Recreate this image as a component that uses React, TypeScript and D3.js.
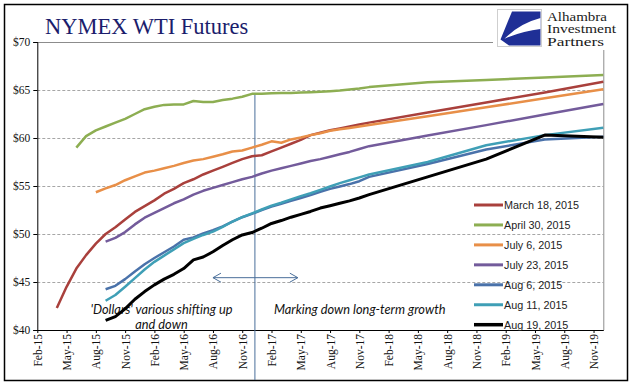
import React, { useEffect, useRef } from 'react';
import * as d3 from 'd3';

// contract months on the curve (monthly through Dec-17, then Jun/Dec)
const contracts = [
  '2015-04', '2015-05', '2015-06', '2015-07', '2015-08', '2015-09', '2015-10', '2015-11', '2015-12',
  '2016-01', '2016-02', '2016-03', '2016-04', '2016-05', '2016-06', '2016-07', '2016-08', '2016-09',
  '2016-10', '2016-11', '2016-12', '2017-01', '2017-02', '2017-03', '2017-04', '2017-05', '2017-06',
  '2017-07', '2017-08', '2017-09', '2017-10', '2017-11', '2017-12', '2018-06', '2018-12', '2019-06',
  '2019-12',
];

const march18 = [
  42.3, 44.5, 46.4, 47.8, 49.0, 50.0, 50.7, 51.5, 52.3, 52.9, 53.5, 54.2, 54.7, 55.3, 55.7, 56.2,
  56.6, 57.0, 57.4, 57.8, 58.1, 58.2, 58.6, 59.0, 59.4, 59.8, 60.3, 60.55, 60.8, 61.0, 61.2, 61.4,
  61.6, 62.66, 63.7, 64.75, 65.85,
];
const april30 = [
  null, null, 59.0, 60.2, 60.8, 61.2, 61.6, 62.0, 62.5, 63.0, 63.25, 63.45, 63.5, 63.5, 63.85, 63.75,
  63.75, 63.95, 64.1, 64.3, 64.6, 64.62, 64.65, 64.68, 64.7, 64.73, 64.77, 64.82, 64.88, 64.95, 65.05,
  65.15, 65.3, 65.8, 66.05, 66.3, 66.55,
];
const july6 = [
  null, null, null, null, 54.35, 54.75, 55.1, 55.6, 56.0, 56.4, 56.6, 56.85, 57.1, 57.4, 57.65, 57.8,
  58.05, 58.3, 58.6, 58.7, 59.0, 59.3, 59.65, 59.5, 59.85, 60.05, 60.3, 60.5, 60.75, 60.9, 61.05,
  61.2, 61.35, 62.27, 63.2, 64.14, 65.07,
];
const july23 = [
  null, null, null, null, null, 49.2, 49.6, 50.2, 51.0, 51.7, 52.2, 52.7, 53.2, 53.6, 54.1, 54.5,
  54.8, 55.1, 55.4, 55.7, 55.95, 56.3, 56.6, 56.85, 57.1, 57.35, 57.6, 57.8, 58.05, 58.3, 58.55,
  58.85, 59.15, 60.25, 61.34, 62.45, 63.54,
];
const aug6 = [
  null, null, null, null, null, 44.25, 44.6, 45.3, 46.1, 46.85, 47.5, 48.1, 48.7, 49.4, 49.65, 50.05,
  50.4, 50.8, 51.3, 51.75, 52.1, 52.5, 52.85, 53.15, 53.45, 53.75, 54.05, 54.4, 54.7, 54.95, 55.2,
  55.5, 55.95, 57.3, 58.8, 59.85, 60.14,
];
const aug11 = [
  null, null, null, null, null, 43.05, 43.65, 44.5, 45.4, 46.3, 47.1, 47.75, 48.4, 49.05, 49.5, 49.9,
  50.25, 50.75, 51.3, 51.75, 52.15, 52.55, 52.95, 53.25, 53.6, 53.95, 54.25, 54.6, 54.95, 55.3, 55.6,
  55.9, 56.2, 57.5, 59.25, 60.3, 61.07,
];
const aug19 = [
  null, null, null, null, null, 41.0, 41.4, 42.2, 43.2, 44.0, 44.7, 45.3, 45.8, 46.4, 47.3, 47.6,
  48.15, 48.8, 49.4, 49.9, 50.15, 50.6, 51.1, 51.4, 51.75, 52.05, 52.35, 52.7, 52.95, 53.2, 53.45,
  53.75, 54.1, 55.95, 57.8, 60.3, 60.07,
];

const seriesNames = [
  'March 18, 2015', 'April 30, 2015', 'July 6, 2015', 'July 23, 2015',
  'Aug 6, 2015', 'Aug 11, 2015', 'Aug 19, 2015',
];
const seriesValues = [march18, april30, july6, july23, aug6, aug11, aug19];
const seriesColors = ['#a9403c', '#8dae52', '#e88f48', '#735b9b', '#4a72aa', '#3f9fb6', '#000000'];

const xTickLabels = [
  'Feb-15', 'May-15', 'Aug-15', 'Nov-15', 'Feb-16', 'May-16', 'Aug-16', 'Nov-16', 'Feb-17', 'May-17',
  'Aug-17', 'Nov-17', 'Feb-18', 'May-18', 'Aug-18', 'Nov-18', 'Feb-19', 'May-19', 'Aug-19', 'Nov-19',
];
const yTicks = [40, 45, 50, 55, 60, 65, 70];

// month index counted from Feb-2015
const monthIndex = (s: string) => {
  const [yy, mm] = s.split('-').map(Number);
  return (yy - 2015) * 12 + (mm - 1) - 1;
};

const W = 641;
const H = 388;

const App = () => {
  const svgRef = useRef<SVGSVGElement>(null);

  useEffect(() => {
    const svg = d3.select(svgRef.current);
    svg.selectAll('*').remove();

    const x = d3.scaleLinear().domain([0, 58]).range([37.3, 603.3]);
    const y = d3.scaleLinear().domain([40, 70]).range([330, 42]);
    const serif = '"Liberation Serif", "Times New Roman", serif';

    // outer frame
    svg.append('rect')
      .attr('x', 4.5).attr('y', 4.5).attr('width', 623).attr('height', 376)
      .attr('fill', '#fff').attr('stroke', '#000').attr('stroke-width', 1.5);

    // title
    svg.append('text')
      .attr('x', 45).attr('y', 34)
      .attr('font-family', serif).attr('font-size', 22.5)
      .attr('fill', '#1b1d6c')
      .text('NYMEX WTI Futures');

    // gridlines
    svg.append('g')
      .selectAll('line')
      .data(yTicks.filter((d) => d > 40 && d < 70))
      .join('line')
      .attr('x1', x(0)).attr('x2', x(58))
      .attr('y1', (d) => y(d) + 0.5).attr('y2', (d) => y(d) + 0.5)
      .attr('stroke', '#a6a6a6').attr('stroke-dasharray', '3,2');

    // plot top and right edges
    svg.append('line')
      .attr('x1', x(0)).attr('x2', 493).attr('y1', y(70) + 0.5).attr('y2', y(70) + 0.5)
      .attr('stroke', '#8c8c8c');
    svg.append('line')
      .attr('x1', x(58) + 0.5).attr('x2', x(58) + 0.5).attr('y1', 50).attr('y2', y(40))
      .attr('stroke', '#8c8c8c');

    // y axis
    const yAxis = svg.append('g')
      .attr('transform', `translate(${x(0)},0)`)
      .call(d3.axisLeft(y).tickValues(yTicks).tickFormat((d) => `$${d}`).tickSize(4).tickPadding(3));
    yAxis.selectAll('text').attr('font-family', serif).attr('font-size', 11.5).attr('fill', '#111');
    yAxis.selectAll('line, path').attr('stroke', '#000');

    // x axis
    const xAxis = svg.append('g')
      .attr('transform', `translate(0,${y(40)})`)
      .call(
        d3.axisBottom(x)
          .tickValues(xTickLabels.map((_, i) => i * 3))
          .tickFormat((_, i) => xTickLabels[i])
          .tickSize(3)
          .tickSizeOuter(0)
      );
    xAxis.selectAll('line, path').attr('stroke', '#000');
    xAxis.selectAll('text')
      .attr('font-family', serif).attr('font-size', 11.5).attr('fill', '#111')
      .attr('transform', 'rotate(-90)')
      .attr('text-anchor', 'end')
      .attr('x', -4).attr('y', 0).attr('dy', '0.35em');

    // divider line and arrow
    const markerMonth = 22.3;
    const markColor = '#4a6f9a';
    svg.append('line')
      .attr('x1', x(markerMonth)).attr('x2', x(markerMonth))
      .attr('y1', y(64.6)).attr('y2', 380)
      .attr('stroke', markColor).attr('stroke-width', 1);

    const ay = y(45.45);
    const ax1 = x(18);
    const ax2 = x(26.7);
    svg.append('path')
      .attr('d', `M${ax1},${ay}H${ax2}M${ax1 + 8},${ay - 4.5}L${ax1},${ay}L${ax1 + 8},${ay + 4.5}` +
        `M${ax2 - 8},${ay - 4.5}L${ax2},${ay}L${ax2 - 8},${ay + 4.5}`)
      .attr('fill', 'none').attr('stroke', markColor).attr('stroke-width', 1);

    // annotations
    const noteFont = 'Lato, "Open Sans", sans-serif';
    const notes = svg.append('g')
      .attr('font-family', noteFont).attr('font-style', 'italic').attr('font-size', 12.8).attr('fill', '#111');
    notes.append('text').attr('x', 161.5).attr('y', 313.5).attr('text-anchor', 'middle')
      .text("'Dollars' various shifting up");
    notes.append('text').attr('x', 161.5).attr('y', 328.5).attr('text-anchor', 'middle')
      .text('and down');
    notes.append('text').attr('x', 274).attr('y', 313.5)
      .text('Marking down long-term growth');

    // series lines
    const line = d3.line<number | null>()
      .defined((d) => d != null)
      .x((_, i) => x(monthIndex(contracts[i])))
      .y((d) => y(d as number));

    svg.append('g')
      .selectAll('path')
      .data(seriesValues)
      .join('path')
      .attr('d', (d) => line(d))
      .attr('fill', 'none')
      .attr('stroke', (_, i) => seriesColors[i])
      .attr('stroke-width', (_, i) => (i === 6 ? 3 : 2.5))
      .attr('stroke-linejoin', 'round');

    // legend
    const legend = svg.append('g');
    const rows = legend.selectAll('g')
      .data(seriesNames)
      .join('g')
      .attr('transform', (_, i) => `translate(474,${205 + i * 19.95})`);
    rows.append('line')
      .attr('x1', 0).attr('x2', 29)
      .attr('stroke', (_, i) => seriesColors[i])
      .attr('stroke-width', (_, i) => (i === 6 ? 3.5 : 3));
    rows.append('text')
      .attr('x', 30).attr('y', 4)
      .attr('font-family', '"Liberation Sans", Arial, sans-serif')
      .attr('font-size', 10.8).attr('fill', '#222')
      .text((d) => d);

    // logo
    const logo = svg.append('g');
    logo.append('rect')
      .attr('x', 497.5).attr('y', 9.5).attr('width', 44).attr('height', 37)
      .attr('fill', '#fff').attr('stroke', '#cfcfcf');
    logo.append('path')
      .attr('d', 'M512,11.5L540.5,11.5L540.5,45.5L509,45.5L500.5,39.5Z')
      .attr('fill', '#1f2f96');
    logo.append('path')
      .attr('d', 'M540.5,18Q519.5,23.5 504.5,38.8Q522.5,30.9 540.5,29Z')
      .attr('fill', '#fff');
    const logoText = logo.append('g')
      .attr('font-family', serif).attr('font-size', 13.5).attr('fill', '#1a1a1a');
    ['Alhambra', 'Investment', 'Partners'].forEach((t, i) => {
      logoText.append('text').attr('x', 547).attr('y', 20.5 + i * 12.5)
        .attr('textLength', [60, 69, 57][i]).attr('lengthAdjust', 'spacingAndGlyphs')
        .text(t);
    });
  }, []);

  return (
    <svg
      ref={svgRef}
      width={W}
      height={H}
      style={{ position: 'absolute', left: 0, top: 0, background: '#fff' }}
    />
  );
};

export default App;
